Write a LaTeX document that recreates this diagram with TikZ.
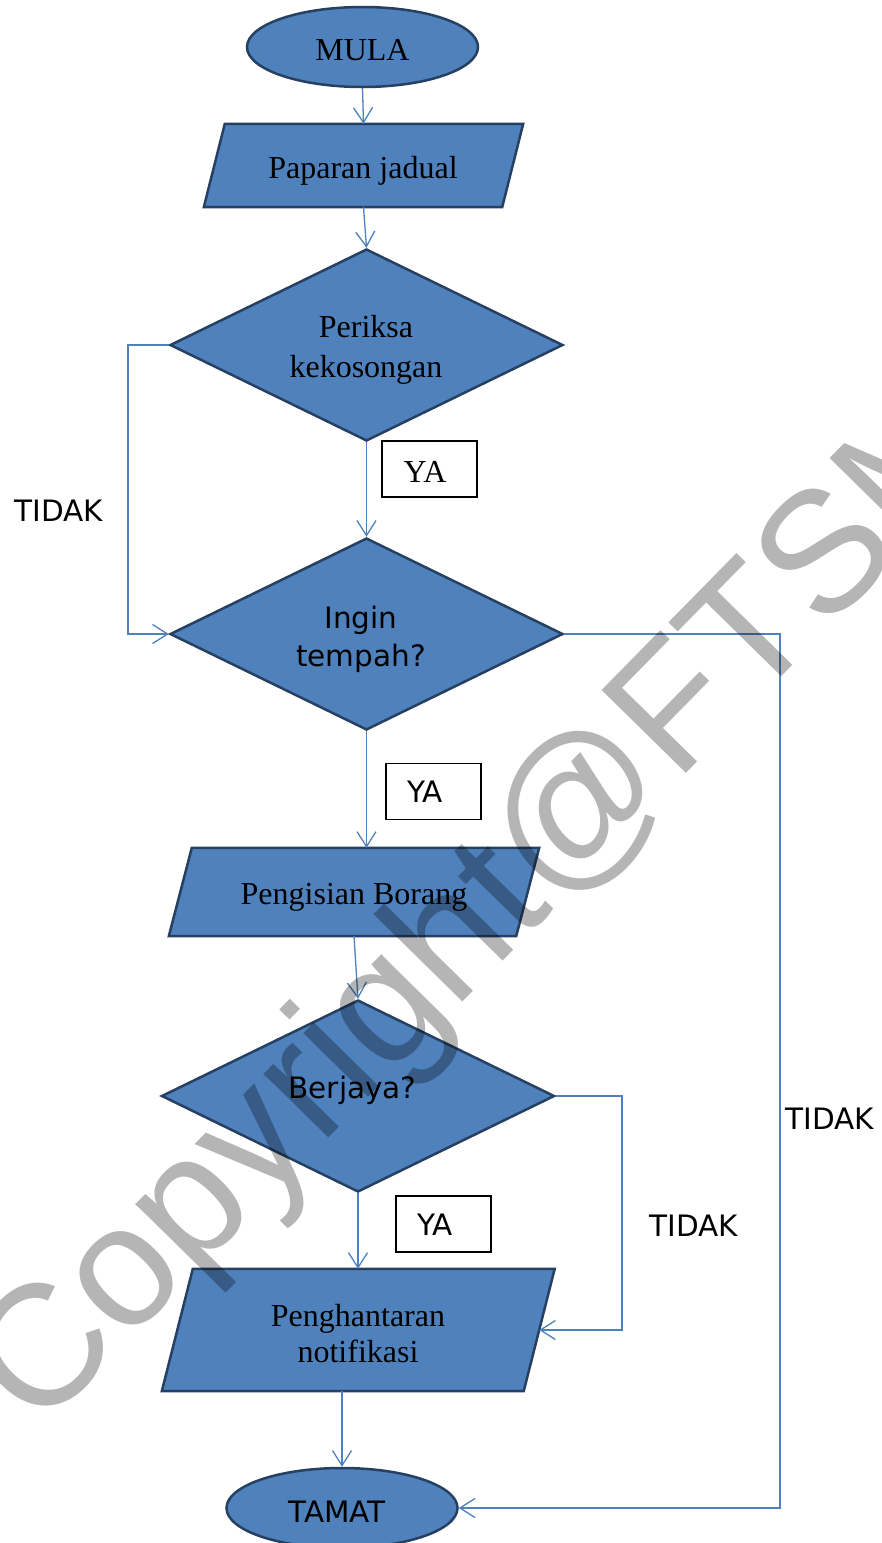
\documentclass[tikz,border=0pt]{standalone}
\usepackage{fontspec}
\setmainfont{Liberation Serif}
\newfontfamily\vsans{DejaVu Sans}
\newfontfamily\wmfont{Liberation Sans}
\usetikzlibrary{shapes.geometric,arrows.meta}

\definecolor{boxblue}{RGB}{79,129,189}
\definecolor{boxedge}{RGB}{38,64,97}
\definecolor{linkblue}{RGB}{79,129,189}

\pgfdeclarelayer{bg}
\pgfsetlayers{bg,main}

\tikzset{
  serif/.style={font=\fontsize{32}{39}\selectfont, align=center, inner sep=0pt},
  sans/.style={font=\vsans\fontsize{29.5}{38}\selectfont, align=center, inner sep=0pt},
  terminal/.style={ellipse, draw=boxedge, fill=boxblue, line width=2.5pt,
    inner sep=0pt, minimum width=231pt, minimum height=80pt},
  decision/.style={diamond, aspect=2, draw=boxedge, fill=boxblue, line width=2.5pt,
    inner sep=0pt, minimum width=393pt, minimum height=192pt},
  ioframe/.style={rectangle, inner sep=0pt},
  parashape/.style={draw=boxedge, fill=boxblue, line width=2.5pt, line join=miter},
  yabox/.style={rectangle, draw=black, line width=1.3pt, fill=white,
    minimum width=95pt, minimum height=56pt, inner sep=0pt},
  link/.style={draw=linkblue, line width=1.3pt, -{Straight Barb[length=15pt,width=19pt]}},
  watermark/.style={font=\wmfont\fontsize{172}{172}\selectfont, text=black,
    text opacity=0.29, rotate=45.5, anchor=base, inner sep=0pt},
}

\begin{document}
\begin{tikzpicture}[x=1pt,y=-1pt]
  \useasboundingbox (0,0) rectangle (882,1543);
  \clip (0,0) rectangle (882,1543);

  % start and end
  \node[terminal] (mula) at (362.5,47) {};
  \node[terminal] (tm) at (342,1508) {};

  % input/output frames; the parallelograms are drawn round them
  \node[ioframe, minimum width=298pt, minimum height=83pt] (pj) at (363.5,165.5) {};
  \node[ioframe, minimum width=347pt, minimum height=88pt] (pg) at (354,892) {};
  \node[ioframe, minimum width=361.5pt, minimum height=122pt] (ph) at (358.25,1330) {};

  \begin{pgfonlayer}{bg}
    \fill[white] (0,0) rectangle (882,1543);
    \draw[parashape] ([xshift=10.5pt]pj.north west) -- ([xshift=10.5pt]pj.north east)
      -- ([xshift=-10.5pt]pj.south east) -- ([xshift=-10.5pt]pj.south west) -- cycle;
    \draw[parashape] ([xshift=11.5pt]pg.north west) -- ([xshift=11.5pt]pg.north east)
      -- ([xshift=-11.5pt]pg.south east) -- ([xshift=-11.5pt]pg.south west) -- cycle;
    \draw[parashape] ([xshift=15.5pt]ph.north west) -- ([xshift=15.5pt]ph.north east)
      -- ([xshift=-15.5pt]ph.south east) -- ([xshift=-15.5pt]ph.south west) -- cycle;
  \end{pgfonlayer}

  % decisions
  \node[decision] (d1) at (366.5,345) {};
  \node[decision] (d2) at (366.5,634) {};
  \node[decision] (d3) at (358,1096) {};

  % answer boxes
  \node[yabox] (ya1) at (429.5,469) {};
  \node[yabox] (ya2) at (433.5,791.5) {};
  \node[yabox] (ya3) at (443.5,1224) {};

  % texts
  \node[serif] (mula-t) at (362.5,50) {MULA};
  \node[serif] (pj-t) at (363,170.5) {Paparan jadual};
  \node[serif, font=\fontsize{32}{40}\selectfont] (d1-t) at (366,350) {Periksa\\kekosongan};
  \node[sans] (d2-t) at (361,639) {Ingin\\tempah?};
  \node[serif] (pg-t) at (354,897) {Pengisian Borang};
  \node[sans] (d3-t) at (352.5,1090) {Berjaya?};
  \node[serif, font=\fontsize{32}{36}\selectfont] (ph-t) at (358,1334) {Penghantaran\\notifikasi};
  \node[sans] (tm-t) at (337,1512) {TAMAT};
  \node[serif] (ya1-t) at (425,472) {YA};
  \node[sans] (ya2-t) at (425,792) {YA};
  \node[sans] (ya3-t) at (435,1225) {YA};
  \node[sans] (no1) at (59,511) {TIDAK};
  \node[sans] (no2) at (830,1119) {TIDAK};
  \node[sans] (no3) at (694,1226) {TIDAK};

  % rails for the loops
  \coordinate (leftrail) at (128,490);
  \coordinate (midrail) at (622,1200);
  \coordinate (rightrail) at (780,1000);

  % connectors
  \draw[link] (mula.south) -- (pj.north);
  \draw[link] (pj.south) -- (d1.north);
  \draw[link] (d1.south) -- (d2.north);
  \draw[link] (d1.west) -| (leftrail) |- (d2.west);
  \draw[link] (d2.south) -- (d2.south |- pg.north);
  \draw[link] (d2.east) -| (rightrail) |- (tm.east);
  \draw[link] (pg.south) -- (d3.north);
  \draw[link] (d3.south) -- (d3.south |- ph.north);
  \draw[link] (d3.east) -| (midrail) |- (ph.east);
  \draw[link] (ph.south -| tm.north) -- (tm.north);

  % watermark across the chart
  \node[watermark] (wm) at (522,941.4) {Copyright@FTSM};
\end{tikzpicture}
\end{document}
